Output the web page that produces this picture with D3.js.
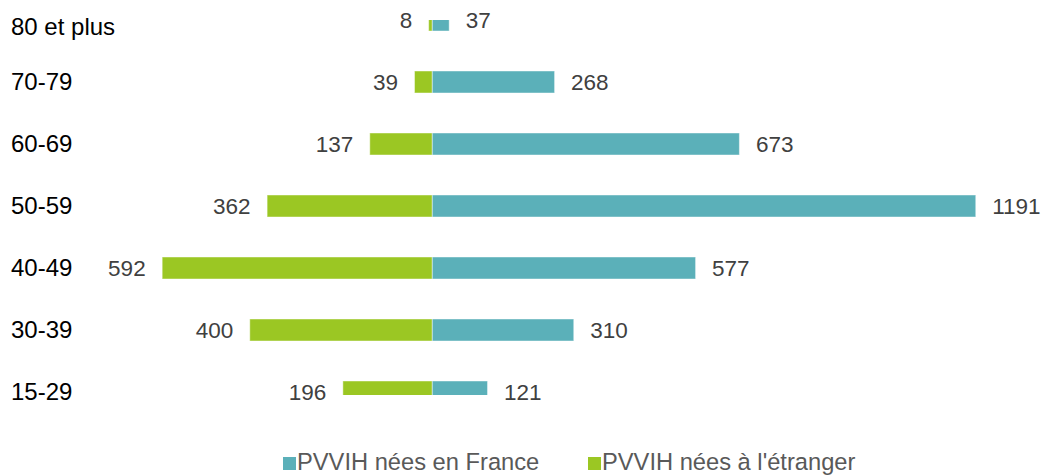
<!DOCTYPE html>
<html>
<head>
<meta charset="utf-8">
<script src="https://cdn.jsdelivr.net/npm/d3@7"></script>
<style>
  html, body { margin: 0; padding: 0; background: #fff; }
  svg { display: block; font-family: "Liberation Sans", Arial, sans-serif; }
</style>
</head>
<body>
<svg id="chart" width="1046" height="476"></svg>
<script>
const categories = ["80 et plus", "70-79", "60-69", "50-59", "40-49", "30-39", "15-29"];
const bornFrance = [37, 268, 673, 1191, 577, 310, 121];
const bornAbroad = [8, 39, 137, 362, 592, 400, 196];
const seriesNames = ["PVVIH nées en France", "PVVIH nées à l'étranger"];
const colors = ["#5BB0B9", "#9BC723"];

const W = 1046, H = 476;
const svg = d3.select("#chart");

const x = d3.scaleLinear().domain([-1000, 1000]).range([432.3 - 456.3, 432.3 + 456.3]);
const y = d3.scalePoint().domain(categories).range([20, 392]);
const barH = 22;
const clipTop = 20, clipBottom = 395;

svg.append("defs").append("clipPath").attr("id", "plotclip")
  .append("rect").attr("x", 0).attr("y", clipTop).attr("width", W).attr("height", clipBottom - clipTop);

const rows = categories.map((c, i) => ({ cat: c, fr: bornFrance[i], ab: bornAbroad[i] }));

const bars = svg.append("g").attr("clip-path", "url(#plotclip)");
bars.selectAll("rect.ab").data(rows).join("rect")
  .attr("class", "ab")
  .attr("x", d => x(-d.ab)).attr("width", d => x(0) - x(-d.ab))
  .attr("y", d => y(d.cat) - barH / 2).attr("height", barH)
  .attr("fill", colors[1])
  .attr("stroke", "rgba(255,255,255,0.45)").attr("stroke-width", 1);
bars.selectAll("rect.fr").data(rows).join("rect")
  .attr("class", "fr")
  .attr("x", x(0)).attr("width", d => x(d.fr) - x(0))
  .attr("y", d => y(d.cat) - barH / 2).attr("height", barH)
  .attr("fill", colors[0])
  .attr("stroke", "rgba(255,255,255,0.45)").attr("stroke-width", 1);

const gap = 16.5;
const vals = svg.append("g").attr("font-size", 22.5).attr("fill", "#404040");
vals.selectAll("text.ab").data(rows).join("text")
  .attr("x", d => x(-d.ab) - gap).attr("y", d => y(d.cat))
  .attr("dy", "0.35em").attr("text-anchor", "end").text(d => d.ab);
vals.selectAll("text.fr").data(rows).join("text")
  .attr("x", d => x(d.fr) + gap).attr("y", d => y(d.cat))
  .attr("dy", "0.35em").attr("text-anchor", "start").text(d => d.fr);

// category axis labels (kept inside the visible plot area)
svg.append("g").attr("font-size", 24).attr("fill", "#000")
  .selectAll("text").data(categories).join("text")
  .attr("x", 11).attr("y", c => Math.max(y(c), clipTop + 7))
  .attr("dy", "0.35em").text(c => c);

// legend
const legend = svg.append("g").attr("font-size", 23.7).attr("fill", "#595959");
const legendX = [283, 588];
seriesNames.forEach((name, i) => {
  const g = legend.append("g").attr("transform", `translate(${legendX[i]},462)`);
  g.append("rect").attr("x", 0).attr("y", -5).attr("width", 13).attr("height", 13).attr("fill", colors[i]);
  g.append("text").attr("x", 14).attr("y", 0).attr("dy", "0.35em").text(name);
});
</script>
</body>
</html>
